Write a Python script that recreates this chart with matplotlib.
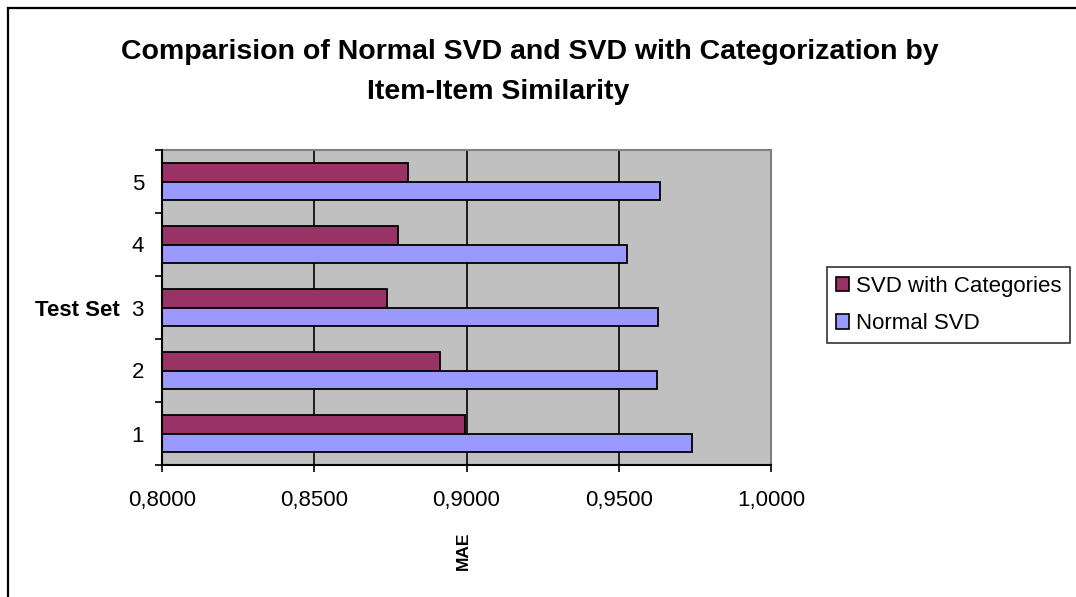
import numpy as np
import matplotlib
matplotlib.use('Agg')
import matplotlib.pyplot as plt
from matplotlib.patches import Patch
from matplotlib.lines import Line2D
from matplotlib.ticker import FuncFormatter, FixedLocator

plt.rcParams['font.family'] = ['Liberation Sans', 'DejaVu Sans']

test_sets = ['1', '2', '3', '4', '5']
svd_categories = [0.8996, 0.8914, 0.8740, 0.8774, 0.8809]
normal_svd = [0.9741, 0.9624, 0.9629, 0.9527, 0.9636]
x_ticks = [0.80, 0.85, 0.90, 0.95, 1.00]

purple = '#993366'
blue = '#9999FF'

fig = plt.figure(figsize=(10.76, 5.97), dpi=100)
ax = fig.add_axes([162 / 1076, 1 - 465 / 597, 609 / 1076, 315 / 597])
ax.set_facecolor('#C0C0C0')

y = np.arange(len(test_sets))
h = 0.286
ax.barh(y + h / 2, svd_categories, height=h, left=0, color=purple,
        edgecolor='black', linewidth=1.3, zorder=3)
ax.barh(y - h / 2, normal_svd, height=h, left=0, color=blue,
        edgecolor='black', linewidth=1.3, zorder=3)

ax.set_xlim(0.8, 1.0)
ax.set_ylim(-0.5, len(test_sets) - 0.5)

# x axis: comma decimal labels, black gridlines
ax.xaxis.set_major_locator(FixedLocator(x_ticks))
ax.xaxis.set_major_formatter(FuncFormatter(lambda v, p: f'{v:.4f}'.replace('.', ',')))
ax.grid(axis='x', color='black', linewidth=1.2, zorder=1)
ax.tick_params(axis='x', direction='out', length=5, width=1.2, pad=13, labelsize=16)

# y axis: ticks between categories, labels at the centres
ax.yaxis.set_major_locator(FixedLocator(np.arange(-0.5, len(test_sets), 1.0)))
ax.yaxis.set_major_formatter(FuncFormatter(lambda v, p: ''))
ax.yaxis.set_minor_locator(FixedLocator(y))
ax.set_yticklabels(test_sets, minor=True)
ax.tick_params(axis='y', which='major', direction='out', length=5, width=1.2)
ax.tick_params(axis='y', which='minor', length=0, pad=13, labelsize=16)

for side in ['top', 'right']:
    ax.spines[side].set_color('#808080')
    ax.spines[side].set_linewidth(1.5)
for side in ['left', 'bottom']:
    ax.spines[side].set_color('black')
    ax.spines[side].set_linewidth(1.5)
    ax.spines[side].set_zorder(4)

fig.text(530 / 1076, 1 - 52 / 597, 'Comparision of Normal SVD and SVD with Categorization by',
         ha='center', va='center', fontsize=20.5, fontweight='bold')
fig.text(498 / 1076, 1 - 92 / 597, 'Item-Item Similarity',
         ha='center', va='center', fontsize=20.5, fontweight='bold')

fig.text(120 / 1076, 1 - 311 / 597, 'Test Set', ha='right', va='center',
         fontsize=16, fontweight='bold')
fig.text(463 / 1076, 1 - 551 / 597, 'MAE', ha='center', va='center',
         rotation=90, fontsize=12.5, fontweight='bold')

handles = [Patch(facecolor=purple, edgecolor='black', linewidth=1.2),
           Patch(facecolor=blue, edgecolor='black', linewidth=1.2)]
leg = fig.legend(handles, ['SVD with Categories', 'Normal SVD'],
                 loc='center left', bbox_to_anchor=(827 / 1076, 1 - 305 / 597),
                 bbox_transform=fig.transFigure, fontsize=16, frameon=True,
                 fancybox=False, edgecolor='black', handlelength=0.6,
                 handleheight=0.6, handletextpad=0.3, labelspacing=0.75,
                 borderpad=0.4, borderaxespad=0)
leg.get_frame().set_linewidth(1.2)

# chart border on the top and left edges
fig.add_artist(Line2D([8 / 1076, 8 / 1076], [0, 1 - 8 / 597], transform=fig.transFigure,
                      color='black', linewidth=1.6))
fig.add_artist(Line2D([8 / 1076, 1], [1 - 8 / 597, 1 - 8 / 597], transform=fig.transFigure,
                      color='black', linewidth=1.6))

fig.savefig('out.png', dpi=100)
